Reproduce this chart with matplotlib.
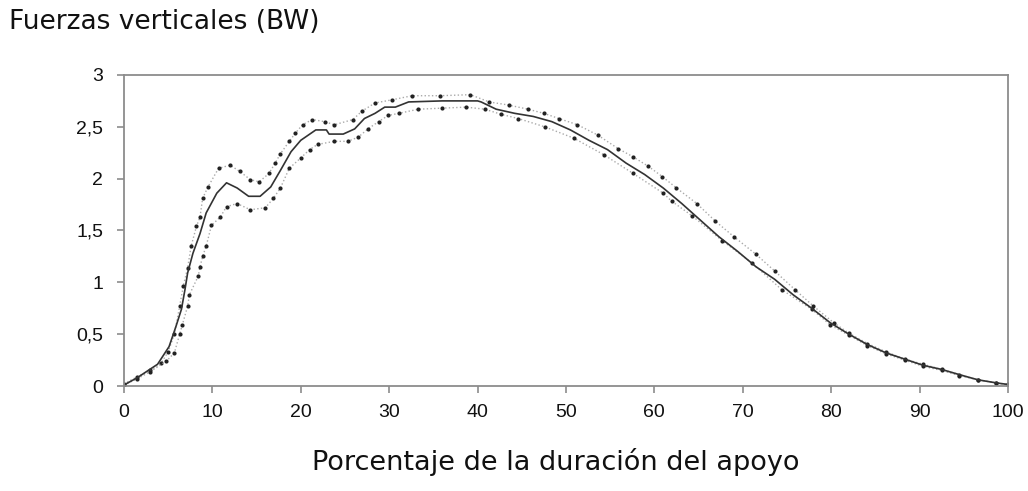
import numpy as np
import matplotlib.pyplot as plt

# --- data (percent of stance, force in BW) ---
mean_x = [0, 1.5, 3.8, 5.1, 5.9, 6.5, 6.9, 7.2, 7.8, 8.6, 9.3, 10.5, 11.6, 12.8, 14.1,
          15.4, 16.6, 17.7, 18.9, 20.0, 21.7, 22.9, 23.2, 24.8, 26.1, 27.2, 28.4, 29.5,
          30.7, 32.2, 36.0, 40.0, 40.4, 42.1, 44.2, 46.3, 48.4, 50.5, 52.6, 54.7, 56.8,
          58.9, 61.0, 63.1, 65.2, 67.3, 69.4, 71.5, 73.6, 75.7, 77.8, 79.9, 82.0, 84.1,
          86.2, 88.3, 90.4, 92.5, 94.5, 96.6, 98.7, 100]
mean_y = [0.01, 0.08, 0.21, 0.38, 0.58, 0.74, 0.93, 1.09, 1.28, 1.47, 1.67, 1.86, 1.96,
          1.91, 1.83, 1.83, 1.92, 2.08, 2.26, 2.37, 2.47, 2.47, 2.43, 2.43, 2.48, 2.58,
          2.63, 2.69, 2.69, 2.74, 2.75, 2.75, 2.74, 2.67, 2.63, 2.60, 2.55, 2.47, 2.37,
          2.28, 2.15, 2.04, 1.91, 1.76, 1.60, 1.44, 1.30, 1.15, 1.03, 0.88, 0.75, 0.61,
          0.50, 0.40, 0.32, 0.26, 0.20, 0.16, 0.11, 0.06, 0.03, 0.015]

upper_x = [0, 1.5, 3.0, 4.2, 5.0, 5.7, 6.3, 6.7, 7.2, 7.6, 8.2, 8.6, 8.9, 9.5, 10.7,
           12.0, 13.1, 14.3, 15.3, 16.4, 17.1, 17.7, 18.7, 19.4, 20.2, 21.3, 22.7, 23.8,
           25.9, 26.9, 28.4, 30.3, 32.6, 35.8, 39.2, 41.3, 43.5, 45.7, 47.5, 49.2, 51.3,
           53.6, 55.9, 57.6, 59.3, 60.9, 62.5, 64.8, 66.9, 69.0, 71.5, 73.6, 75.9, 78.0,
           80.3, 82.0, 84.1, 86.2, 88.3, 90.4, 92.5, 94.5, 96.6, 98.7, 100]
upper_y = [0.02, 0.09, 0.15, 0.22, 0.33, 0.50, 0.77, 0.96, 1.14, 1.35, 1.54, 1.63, 1.81,
           1.92, 2.10, 2.13, 2.07, 1.99, 1.97, 2.05, 2.15, 2.24, 2.36, 2.44, 2.52, 2.57,
           2.55, 2.52, 2.57, 2.65, 2.73, 2.76, 2.80, 2.80, 2.81, 2.74, 2.71, 2.67, 2.63,
           2.58, 2.52, 2.42, 2.29, 2.21, 2.12, 2.02, 1.91, 1.76, 1.59, 1.44, 1.27, 1.11,
           0.93, 0.77, 0.61, 0.51, 0.41, 0.33, 0.26, 0.21, 0.16, 0.11, 0.06, 0.03, 0.015]

lower_x = [0, 1.5, 3.0, 4.8, 5.7, 6.3, 6.6, 7.2, 7.4, 8.4, 8.6, 8.9, 9.3, 9.9, 10.9,
           11.6, 12.8, 14.3, 16.0, 16.9, 17.7, 18.7, 20.0, 21.0, 21.9, 23.8, 25.3, 26.5,
           27.6, 28.8, 29.9, 31.1, 33.3, 36.0, 38.7, 40.8, 42.7, 44.6, 47.6, 50.9, 54.3,
           57.6, 61.0, 62.0, 64.3, 67.7, 71.0, 74.4, 77.8, 79.9, 82.0, 84.1, 86.2, 88.3,
           90.4, 92.5, 94.5, 96.6, 98.7, 100]
lower_y = [0.01, 0.07, 0.14, 0.24, 0.32, 0.50, 0.59, 0.77, 0.88, 1.06, 1.15, 1.25, 1.35,
           1.55, 1.63, 1.73, 1.76, 1.70, 1.72, 1.81, 1.91, 2.10, 2.20, 2.28, 2.33, 2.36,
           2.36, 2.40, 2.48, 2.55, 2.61, 2.63, 2.67, 2.68, 2.69, 2.67, 2.62, 2.58, 2.50,
           2.39, 2.23, 2.05, 1.86, 1.78, 1.64, 1.40, 1.19, 0.93, 0.74, 0.59, 0.49, 0.39,
           0.31, 0.25, 0.19, 0.15, 0.10, 0.06, 0.03, 0.01]

x_ticks = [0, 10, 20, 30, 40, 50, 60, 70, 80, 90, 100]
y_ticks = [0, 0.5, 1, 1.5, 2, 2.5, 3]
y_tick_labels = ["0", "0,5", "1", "1,5", "2", "2,5", "3"]


def main():
    fig = plt.figure(figsize=(10.28, 4.91), dpi=100)
    ax = fig.add_axes([0.1206, 0.2138, 0.8599, 0.6335])

    # +/- SD curves: faint dotted line with dark dots
    for xs, ys in ((upper_x, upper_y), (lower_x, lower_y)):
        ax.plot(xs, ys, linestyle=":", color="#aaaaaa", linewidth=1.0)
        ax.plot(xs, ys, linestyle="none", marker="o", markersize=3.0,
                color="#222222", markeredgewidth=0)
    # mean curve
    ax.plot(mean_x, mean_y, color="#333333", linewidth=1.2)

    ax.set_xlim(0, 100)
    ax.set_ylim(0, 3)
    ax.set_xticks(x_ticks)
    ax.set_yticks(y_ticks)
    ax.set_yticklabels(y_tick_labels)

    for sp in ax.spines.values():
        sp.set_color("#8c8c8c")
        sp.set_linewidth(1.3)
    ax.tick_params(axis="both", colors="#8c8c8c", length=5, width=1.2,
                   labelcolor="#111111", labelsize=14, direction="out")
    ax.tick_params(axis="x", pad=8)
    ax.tick_params(axis="y", pad=10)
    for lbl in ax.get_xticklabels() + ax.get_yticklabels():
        lbl.set_family("Liberation Sans")

    fig.text(0.009, 0.955, "Fuerzas verticales (BW)", fontsize=19,
             ha="left", va="center", color="#111111")
    fig.text(0.541, 0.059, "Porcentaje de la duración del apoyo", fontsize=19.5,
             ha="center", va="center", color="#111111")

    fig.savefig("out.png", dpi=100)
    plt.close(fig)


if __name__ == "__main__":
    main()
